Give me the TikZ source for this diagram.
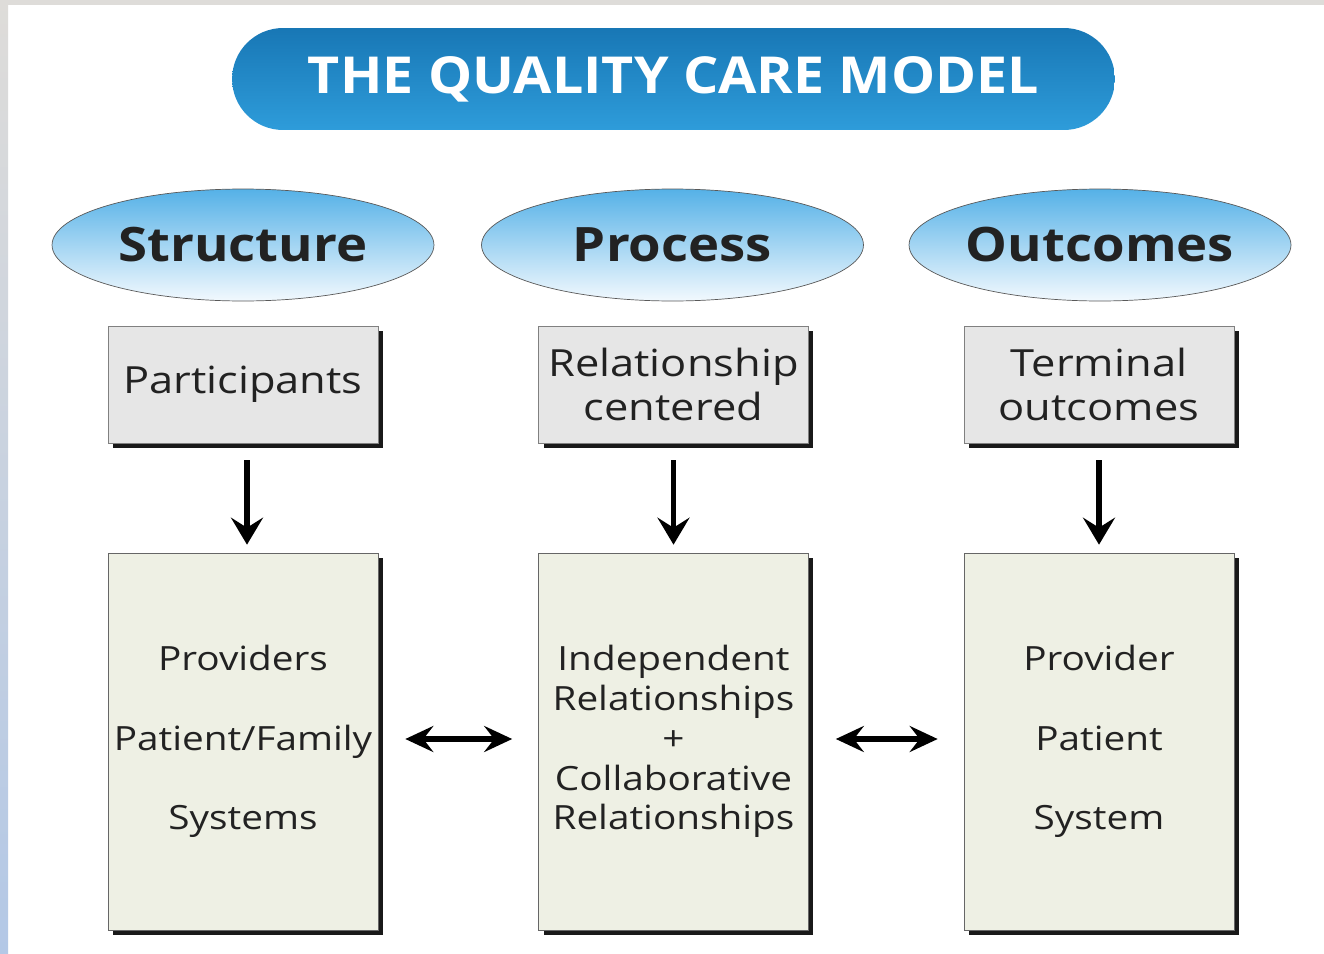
\documentclass[tikz,border=0pt]{standalone}
\usepackage{fontspec}
\setmainfont{Open Sans}
\newfontfamily\bodyfont[FakeStretch=1.16]{Open Sans}
\newfontfamily\pillarfont[FakeStretch=1.11]{Open Sans}
\newfontfamily\bannerfont[FakeStretch=1.09]{Open Sans}
\usetikzlibrary{arrows.meta,shadows,shapes.geometric}

\definecolor{titleTop}{HTML}{1877B5}
\definecolor{titleBot}{HTML}{2E9CDA}
\definecolor{ellTop}{HTML}{55B1E7}
\definecolor{ellBot}{HTML}{F2F9FE}
\definecolor{headFill}{HTML}{E6E6E6}
\definecolor{bodyFill}{HTML}{EEF0E4}
\definecolor{inkGray}{HTML}{222222}
\definecolor{edgeGray}{HTML}{DEDCD9}
\definecolor{edgeBlue}{HTML}{B3C8E6}

\tikzset{
  titlebar/.style={rectangle, rounded corners=1.02cm, minimum width=17.66cm,
    minimum height=2.04cm, top color=titleTop, bottom color=titleBot,
    text=white, font=\bannerfont\fontsize{29}{32}\selectfont\bfseries},
  pillar/.style={ellipse, draw=gray!70!black, minimum width=7.64cm,
    minimum height=2.24cm, inner sep=0pt, top color=ellTop, bottom color=ellBot,
    text=inkGray, font=\pillarfont\fontsize{27}{30}\selectfont\bfseries},
  headbox/.style={rectangle, draw=gray, fill=headFill, minimum width=5.4cm,
    minimum height=2.34cm, inner sep=0pt, align=center, text=inkGray,
    drop shadow={shadow xshift=0.1cm, shadow yshift=-0.1cm, fill=black, opacity=0.9},
    font=\bodyfont\fontsize{21.3}{25.5}\selectfont},
  bodybox/.style={headbox, fill=bodyFill, draw=gray!80!black, minimum height=7.54cm,
    font=\bodyfont\fontsize{19}{22.7}\selectfont},
  downarrow/.style={-{Stealth[length=0.54cm,width=0.64cm,inset=0.2cm]},
    line width=3pt, shorten <=0.34cm, shorten >=0.16cm},
  bothways/.style={{Stealth[length=0.56cm,width=0.52cm,inset=0.2cm]}-{Stealth[length=0.56cm,width=0.52cm,inset=0.2cm]},
    line width=3pt, shorten <=0.54cm, shorten >=0.52cm}
}

\begin{document}
\begin{tikzpicture}[x=0.02cm,y=-0.02cm]
\useasboundingbox (0,0) rectangle (1324,953);
\fill[white] (0,0) rectangle (1324,953);
% frame strips at top and left
\fill[edgeGray] (0,0) rectangle (1324,5);
\shade[top color=edgeGray, bottom color=edgeBlue] (0,0) rectangle (8,953);

\node[titlebar] (title) at (673.5,79) {THE QUALITY CARE MODEL};

\node[pillar] (structure) at (243,245) {Structure};
\node[pillar] (process) at (672.5,245) {Process};
\node[pillar] (outcomes) at (1100,245) {Outcomes};

\node[headbox] (participants) at (243,384.5) {Participants};
\node[headbox] (relcentered) at (673.5,384.5) {Relationship\\centered};
\node[headbox] (terminal) at (1099,384.5) {Terminal\\outcomes};

\node[bodybox] (people) at (243,741.5) {Providers\\[22.7pt]Patient/Family\\[22.7pt]Systems};
\node[bodybox] (relations) at (673.5,741.5) {Independent\\Relationships\\+\\Collaborative\\Relationships};
\node[bodybox] (results) at (1099,741.5) {Provider\\[22.7pt]Patient\\[22.7pt]System};

% arrows sit a little right of the box centres
\draw[downarrow] ([xshift=0.08cm]participants.south) -- ([xshift=0.08cm]people.north);
\draw[downarrow] (relcentered) -- (relations);
\draw[downarrow] (terminal) -- (results);

\draw[bothways] ([yshift=0.05cm]people.east) -- ([yshift=0.05cm]relations.west);
\draw[bothways] ([yshift=0.05cm]relations.east) -- ([yshift=0.05cm]results.west);

\end{tikzpicture}
\end{document}
